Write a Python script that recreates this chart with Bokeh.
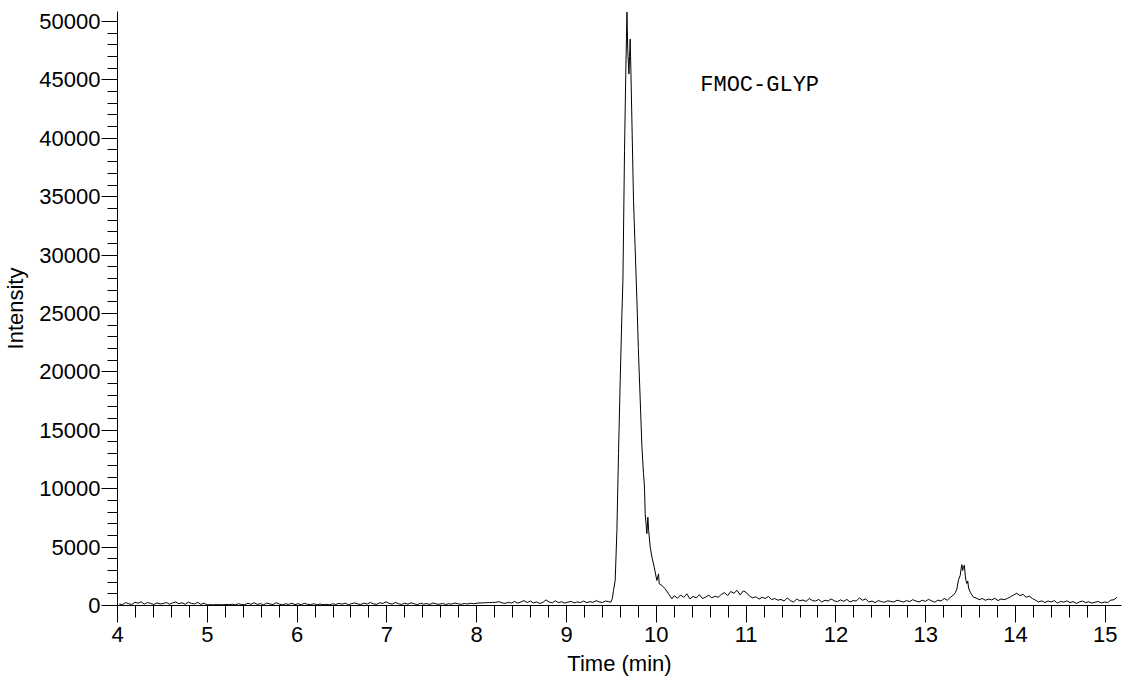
import numpy as np
from bokeh.plotting import figure
from bokeh.models import Range1d, SingleIntervalTicker, NumeralTickFormatter, Label
from bokeh.embed import file_html
from bokeh.resources import INLINE

# ---------------- data ----------------
# baseline before main peak: 4.02 .. 9.47 min
base1_start, base1_end = 4.02, 9.47
base1_vals = [120, 80, 250, 150, 90, 280, 200, 310, 120, 260, 180, 90, 220, 130,
              170, 260, 110, 230, 300, 150, 240, 100, 290, 180, 130, 270, 90, 200,
              60, 70, 60, 80, 70, 60, 90, 70, 110,
              60, 150, 80, 70, 190, 100, 240, 90, 160, 60, 210, 130, 80, 240, 110,
              60, 150, 90, 200, 70,
              160, 60, 190, 100, 80, 150, 60, 120, 70, 100, 60, 140, 90, 180, 110,
              200, 70, 150, 220, 130, 90, 210, 120, 260, 140, 100, 230, 170, 320,
              180, 120, 260, 150, 90, 200, 110, 230, 140, 80, 190, 120, 160, 90,
              220, 130, 100, 180, 90, 150, 120, 210, 140, 100, 170, 130, 190, 150, 200,
              220, 230, 240, 250, 260, 270, 330, 230,
              180, 280, 210, 350, 200, 300, 420, 250, 380, 220, 300, 180, 260, 480,
              300, 230, 400, 250, 320, 200, 290, 350, 220, 310, 250, 380, 240, 330,
              270, 420, 300, 260, 380, 330]

# main peak (FMOC-GLYP)
peak1_t = [9.494, 9.510, 9.523, 9.542, 9.561, 9.579, 9.598, 9.617, 9.628, 9.646,
           9.661, 9.673, 9.682, 9.695, 9.702, 9.709, 9.716, 9.746, 9.784, 9.800,
           9.803, 9.840, 9.857, 9.866, 9.869, 9.876, 9.895, 9.906, 9.915, 9.932,
           9.951, 9.977, 10.006, 10.025, 10.032, 10.062, 10.099, 10.136, 10.174]
peak1_v = [280, 600, 1280, 2140, 6420, 13000, 19260, 25000, 27800, 38950,
           46100, 50800, 47500, 45500, 47000, 48500, 46100, 34700, 26100, 22000,
           21300, 13550, 11300, 10400, 9900, 7870, 6160, 7560, 6400, 4990,
           4140, 3280, 2140, 2710, 1860, 1710, 1430, 1000, 570]

# baseline between peaks: 10.20 .. 13.31 min
base2_start, base2_end = 10.20, 13.31
base2_vals = [850, 620, 900, 700, 1000, 560, 780, 650, 920, 600, 720, 880, 650, 800, 700,
              950, 1100, 850, 1200, 1050, 1300, 900, 1250, 1100,
              800, 650, 750, 550, 700, 600, 780, 500,
              600, 450, 520, 380, 650, 420, 300, 550, 400, 470, 350, 600, 420, 380,
              520, 300, 450, 380, 560, 400, 330, 480, 360, 520, 300, 420, 380, 650,
              450, 560, 300, 380, 250, 420, 330, 280, 400, 350, 300, 450, 380, 300,
              420, 330, 500, 380, 300, 450, 350, 520, 400, 280, 460, 380, 600, 450,
              700, 900]

# second peak
peak2_t = [13.330, 13.347, 13.365, 13.384, 13.395, 13.403, 13.412, 13.420, 13.430,
           13.440, 13.448, 13.459, 13.468, 13.477, 13.495, 13.515, 13.532]
peak2_v = [1100, 1430, 2200, 2570, 3200, 3500, 3000, 3280, 3450,
           2600, 2140, 1880, 2100, 1500, 1140, 900, 710]

# baseline after second peak: 13.56 .. 15.13 min
base3_start, base3_end = 13.56, 15.13
base3_vals = [650, 500, 600, 450, 550, 480, 620, 420, 560, 500, 600,
              750, 900, 1050, 850, 950, 700, 800, 600,
              450, 300, 400, 250, 380, 300, 420, 200, 350, 280, 400, 250, 330, 180,
              300, 380, 250, 320, 200, 280, 350, 220, 300, 250,
              450, 500, 700]

x_ticks_interval = 1
y_ticks_interval = 5000
x_label = "Time (min)"
y_label = "Intensity"
peak_label = "FMOC-GLYP"
peak_label_x, peak_label_y = 10.489, 44500

# ---------------- assemble trace ----------------
t = np.concatenate([
    np.linspace(base1_start, base1_end, len(base1_vals)),
    np.array(peak1_t),
    np.linspace(base2_start, base2_end, len(base2_vals)),
    np.array(peak2_t),
    np.linspace(base3_start, base3_end, len(base3_vals)),
])
v = np.concatenate([base1_vals, peak1_v, base2_vals, peak2_v, base3_vals]).astype(float)

FONT = "Liberation Sans"

p = figure(width=1125, height=681, output_backend="svg", toolbar_location=None,
           x_range=Range1d(4.0, 15.18), y_range=Range1d(0, 50856),
           min_border_left=117, min_border_right=4, min_border_top=11,
           min_border_bottom=76)
p.background_fill_color = "white"
p.border_fill_color = "white"
p.outline_line_color = None
p.xgrid.visible = False
p.ygrid.visible = False

p.line(t, v, line_color="black", line_width=1)

# x axis
xa = p.xaxis[0]
xa.ticker = SingleIntervalTicker(interval=x_ticks_interval, num_minor_ticks=5)
xa.axis_label = x_label
xa.axis_line_color = "black"
xa.major_tick_line_color = "black"
xa.minor_tick_line_color = "black"
xa.major_tick_in = 0
xa.major_tick_out = 17
xa.minor_tick_in = 0
xa.minor_tick_out = 12
xa.major_label_text_font = FONT
xa.major_label_text_font_size = "22px"
xa.major_label_text_color = "black"
xa.major_label_standoff = 4
xa.axis_label_text_font = FONT
xa.axis_label_text_font_size = "22px"
xa.axis_label_text_font_style = "normal"
xa.axis_label_text_color = "black"
xa.axis_label_standoff = 6

# y axis
ya = p.yaxis[0]
ya.ticker = SingleIntervalTicker(interval=y_ticks_interval, num_minor_ticks=5)
ya.formatter = NumeralTickFormatter(format="0")
ya.axis_label = y_label
ya.axis_line_color = "black"
ya.major_tick_line_color = "black"
ya.minor_tick_line_color = "black"
ya.major_tick_in = 0
ya.major_tick_out = 16
ya.minor_tick_in = 0
ya.minor_tick_out = 10
ya.major_label_text_font = FONT
ya.major_label_text_font_size = "22px"
ya.major_label_text_color = "black"
ya.major_label_standoff = 1
ya.axis_label_text_font = FONT
ya.axis_label_text_font_size = "22px"
ya.axis_label_text_font_style = "normal"
ya.axis_label_text_color = "black"
ya.axis_label_standoff = 8

p.add_layout(Label(x=peak_label_x, y=peak_label_y, text=peak_label,
                   text_font="Liberation Mono", text_font_size="22px",
                   text_color="black", text_baseline="alphabetic",
                   text_align="left"))

open("out.html", "w").write(file_html(p, INLINE))
